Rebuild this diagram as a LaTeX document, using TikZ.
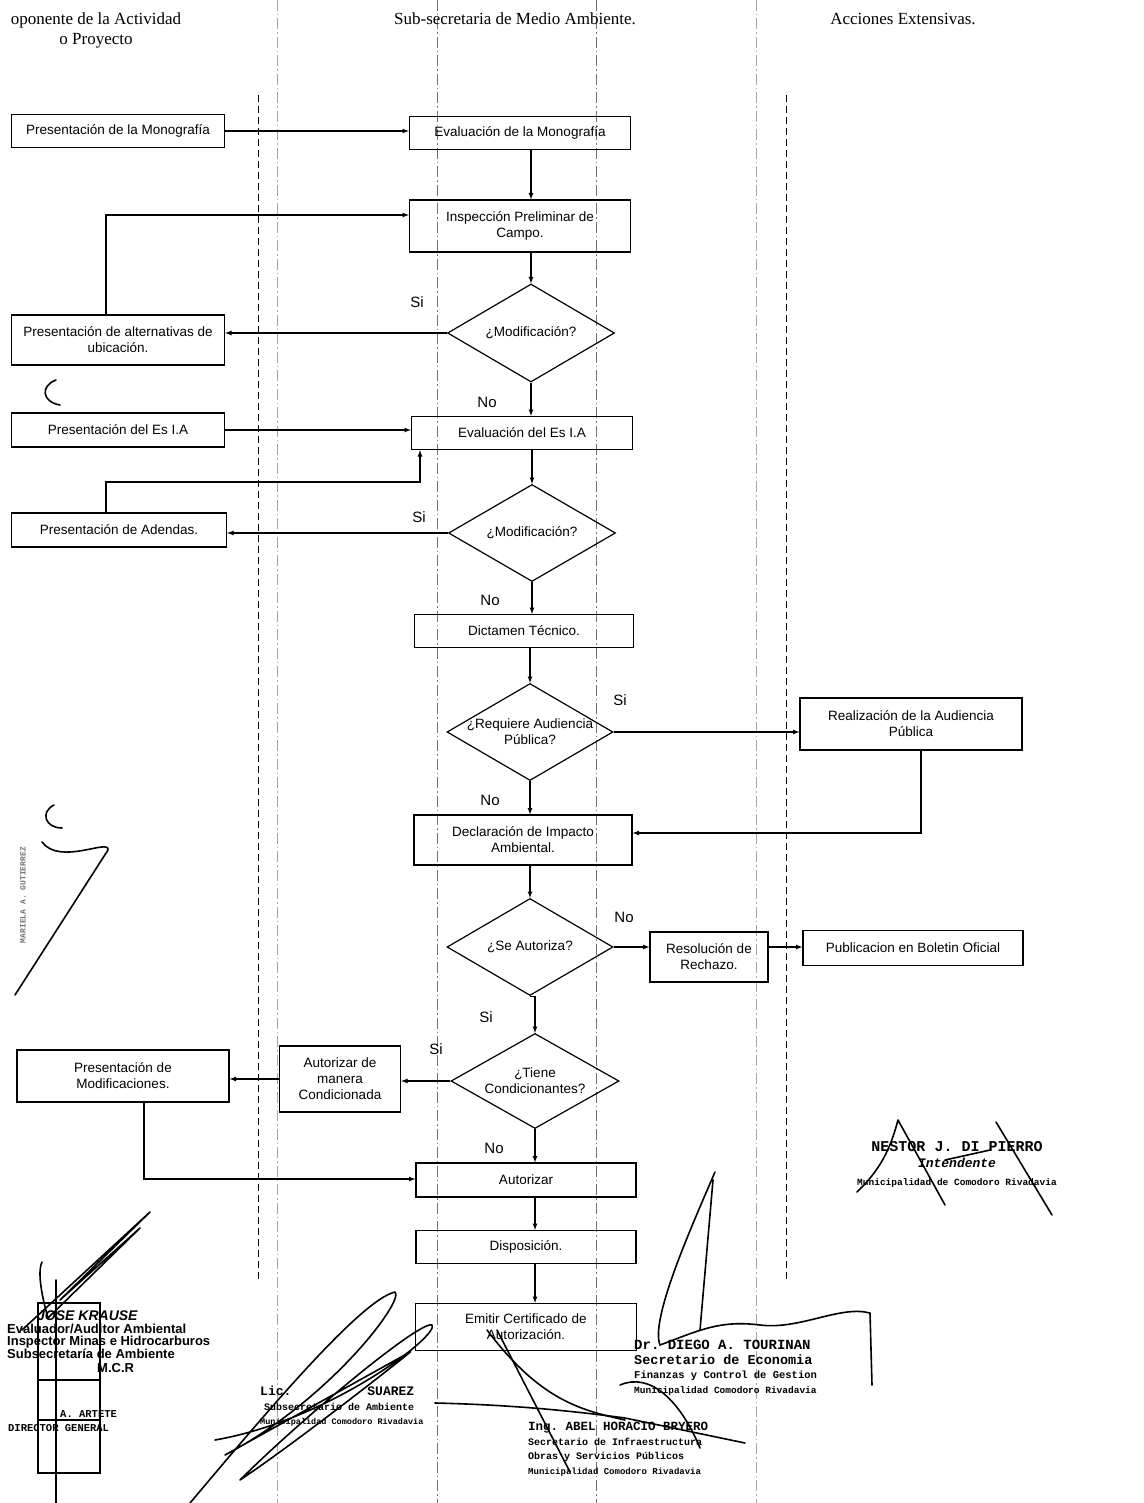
\documentclass[tikz,border=0pt]{standalone}
\usepackage{fontspec}
\setmainfont{Liberation Serif}
\setsansfont{Liberation Sans}
\setmonofont{Liberation Mono}
\usetikzlibrary{shapes.geometric}

\tikzset{
  paso/.style={draw, rectangle, line width=1.2pt, align=center, inner sep=2pt,
    font=\sffamily\fontsize{13.5}{16}\selectfont},
  pregunta/.style={draw, diamond, aspect=1.7, line width=1.2pt, align=center,
    inner sep=-6pt, font=\sffamily\fontsize{13.5}{16}\selectfont},
  flecha/.style={-latex, line width=1.2pt},
  rotulo/.style={font=\sffamily\fontsize{15}{17}\selectfont},
  titulo/.style={font=\fontsize{17}{20}\selectfont, align=center},
  carril/.style={line width=1pt, dash pattern=on 7pt off 4pt},
  guia/.style={line width=0.7pt, black!55, dash pattern=on 11pt off 3pt on 1.5pt off 3pt},
  sello/.style={align=left, inner sep=0pt, font=\ttfamily\bfseries\fontsize{10}{14.5}\selectfont},
  selloK/.style={align=left, inner sep=0pt, font=\sffamily\bfseries\fontsize{13}{12.5}\selectfont},
  firma/.style={line width=1.6pt, line cap=round, line join=round},
}

\begin{document}
\begin{tikzpicture}[x=1pt, y=-1pt]

  \fill[white] (0,0) rectangle (1143,1503);
  \useasboundingbox (0,0) rectangle (1143,1503); %% page size

  %% swim lanes
  \foreach \gx in {277, 756} \draw[guia, black!35] (\gx,0) -- (\gx,1503);
  \foreach \gx in {437, 596} \draw[guia] (\gx,0) -- (\gx,1503);
  \foreach \gx in {258, 786} \draw[carril] (\gx,95) -- (\gx,1280);

  %% headers
  \node[titulo] (hdrprop) at (96,30) {oponente de la Actividad\\o Proyecto};
  \node[titulo] (hdrsub) at (515,19) {Sub-secretaria de Medio Ambiente.};
  \node[titulo] (hdracc) at (903,19) {Acciones Extensivas.};

  %% steps
  \node[paso, minimum width=213, minimum height=33] (mono) at (118,131)
    {Presentación de la Monografía};
  \node[paso, minimum width=221, minimum height=33] (evalmono) at (520,133)
    {Evaluación de la Monografía};
  \node[paso, minimum width=221, minimum height=52] (insp) at (520,226)
    {Inspección Preliminar de\\Campo.};
  \node[pregunta, minimum width=167, minimum height=98] (modA) at (531,333)
    {¿Modificación?};
  \node[paso, minimum width=213, minimum height=50] (alt) at (118,340)
    {Presentación de alternativas de\\ubicación.};

  \node[paso, minimum width=213, minimum height=34] (esia) at (118,430)
    {Presentación del Es I.A};
  \node[paso, minimum width=221, minimum height=33] (evalesia) at (522,433)
    {Evaluación del Es I.A};
  \node[pregunta, minimum width=167, minimum height=97] (modB) at (532,533)
    {¿Modificación?};
  \node[paso, minimum width=215, minimum height=34] (aden) at (119,530)
    {Presentación de Adendas.};
  \node[paso, minimum width=219, minimum height=33] (dict) at (524,631)
    {Dictamen Técnico.};

  \node[pregunta, minimum width=166, minimum height=97] (aud) at (530,732)
    {¿Requiere Audiencia\\Pública?};
  \node[paso, minimum width=222, minimum height=52] (real) at (911,724)
    {Realización de la Audiencia\\Pública};
  \node[paso, minimum width=218, minimum height=50] (decl) at (523,840)
    {Declaración de Impacto\\Ambiental.};

  \node[pregunta, minimum width=166, minimum height=97] (autoriza) at (530,947)
    {¿Se Autoriza?};
  \node[paso, minimum width=118, minimum height=50] (rech) at (709,957)
    {Resolución de\\Rechazo.};
  \node[paso, minimum width=220, minimum height=35] (pub) at (913,948)
    {Publicacion en Boletin Oficial};

  \node[pregunta, minimum width=168, minimum height=95] (cond) at (535,1081)
    {¿Tiene\\Condicionantes?};
  \node[paso, minimum width=121, minimum height=66] (autcond) at (340,1079)
    {Autorizar de\\manera\\Condicionada};
  \node[paso, minimum width=212, minimum height=52] (modif) at (123,1076)
    {Presentación de\\Modificaciones.};
  \node[paso, minimum width=220, minimum height=34] (autz) at (526,1180)
    {Autorizar};
  \node[paso, minimum width=220, minimum height=33] (disp) at (526,1247)
    {Disposición.};
  \node[paso, minimum width=221, minimum height=47] (emit) at (526,1327)
    {Emitir Certificado de\\Autorización.};

  %% branch labels
  \node[rotulo] (siA) at (417,302) {Si};
  \node[rotulo] (noA) at (487,402) {No};
  \node[rotulo] (siB) at (419,517) {Si};
  \node[rotulo] (noB) at (490,600) {No};
  \node[rotulo] (siC) at (620,700) {Si};
  \node[rotulo] (noC) at (490,800) {No};
  \node[rotulo] (noD) at (624,917) {No};
  \node[rotulo] (siD) at (486,1017) {Si};
  \node[rotulo] (siE) at (436,1049) {Si};
  \node[rotulo] (noE) at (494,1148) {No};

  %% turning points
  \coordinate (vueltaA) at (106,215);
  \coordinate (vueltaB) at (420,482);
  \coordinate (vueltaC) at (921,833);
  \coordinate (vueltaD) at (144,1179);

  %% connectors
  \draw[flecha] (mono.east) -- (mono.east -| evalmono.west);
  \draw[flecha] (evalmono.south -| modA.north) -- (insp.north -| modA.north);
  \draw[flecha] (insp.south -| modA.north) -- (modA.north);
  \draw[flecha] (modA.west) -- (modA.west -| alt.east);
  \draw[flecha] (alt.north -| vueltaA) |- (vueltaA -| insp.west);
  \draw[flecha] (modA.south) -- (modA.south |- evalesia.north);

  \draw[flecha] (esia.east) -- (esia.east -| evalesia.west);
  \draw[flecha] (evalesia.south -| modB.north) -- (modB.north);
  \draw[flecha] (modB.west) -- (modB.west -| aden.east);
  \draw[flecha] (aden.north -| vueltaA) |- (vueltaB) -- (vueltaB |- evalesia.south);
  \draw[flecha] (modB.south) -- (modB.south |- dict.north);
  \draw[flecha] (dict.south -| aud.north) -- (aud.north);

  \draw[flecha] (aud.east) -- (aud.east -| real.west);
  \draw[flecha] (aud.south) -- (aud.south |- decl.north);
  \draw[flecha] (real.south -| vueltaC) -- (vueltaC) -- (vueltaC -| decl.east);
  \draw[flecha] (decl.south -| autoriza.north) -- (autoriza.north);

  \draw[flecha] (autoriza.east) -- (autoriza.east -| rech.west);
  \draw[flecha] (autoriza.east -| rech.east) -- (autoriza.east -| pub.west);
  \draw[flecha] (autoriza.south) -- (autoriza.south -| cond.north) -- (cond.north);

  \draw[flecha] (cond.west) -- (cond.west -| autcond.east);
  \draw[flecha] (autcond.west) -- (autcond.west -| modif.east);
  \draw[flecha] (modif.south -| vueltaD) -- (vueltaD) -- (vueltaD -| autz.west);
  \draw[flecha] (cond.south) -- (cond.south |- autz.north);
  \draw[flecha] (autz.south -| cond.south) -- (disp.north -| cond.south);
  \draw[flecha] (disp.south -| cond.south) -- (emit.north -| cond.south);

  %% stamps
  \node[selloK, anchor=north west] (krause) at (7,1311)
    {\fontsize{14}{13}\selectfont\hspace*{30pt}\textit{JOSE KRAUSE}\\
     Evaluador/Auditor Ambiental\\
     Inspector Minas e Hidrocarburos\\
     Subsecretaría de Ambiente\\[2pt]
     \hspace*{90pt}M.C.R};
  \node[sello, anchor=north west] (artete) at (8,1410)
    {\fontsize{10.5}{13}\selectfont\hspace*{52pt}A. ARTETE\\
     \fontsize{10.5}{13}\selectfont DIRECTOR GENERAL};
  \node[rotate=90, font=\ttfamily\bfseries\fontsize{8}{9}\selectfont, black!55]
    (gutierrez) at (23,895) {MARIELA A. GUTIERREZ};
  \node[sello, anchor=north west] (suarez) at (260,1386)
    {\fontsize{13}{15}\selectfont Lic.\hspace*{76pt}SUAREZ\\
     \hspace*{4pt}Subsecretario de Ambiente\\
     \fontsize{8.5}{11}\selectfont Municipalidad Comodoro Rivadavia};
  \node[sello, anchor=north west] (bryero) at (528,1422)
    {\fontsize{12.5}{14}\selectfont Ing. ABEL HORACIO BRYERO\\
     Secretario de Infraestructura\\
     Obras y Servicios Públicos\\
     \fontsize{9}{11}\selectfont Municipalidad Comodoro Rivadavia};
  \node[sello, anchor=north west] (tourinan) at (634,1340)
    {\fontsize{14}{15}\selectfont Dr. DIEGO A. TOURINAN\\
     \fontsize{13.5}{13}\selectfont Secretario de Economia\\
     \fontsize{10.5}{12}\selectfont Finanzas y Control de Gestion\\
     \fontsize{9.5}{11}\selectfont Municipalidad Comodoro Rivadavia};
  \node[sello, align=center] (pierro) at (957,1164)
    {\fontsize{15}{15}\selectfont NESTOR J. DI PIERRO\\[2pt]
     \fontsize{13}{13}\selectfont\itshape Intendente\\[3pt]
     \fontsize{9.5}{11}\selectfont Municipalidad de Comodoro Rivadavia};

  %% signatures
  \draw[firma] (22,1330) -- (150,1212) -- (60,1300) -- (140,1228) -- (48,1318)
    .. controls (40,1290) and (38,1270) .. (42,1262);
  \draw[line width=1.2pt] (38,1303) rectangle (100,1473);
  \draw[line width=1.2pt] (38,1380) -- (100,1380) (38,1420) -- (100,1420);
  \draw[firma] (56,1280) -- (56,1503);
  \draw[firma] (190,1503) .. controls (260,1420) and (360,1300) .. (395,1292)
    .. controls (405,1300) and (330,1400) .. (225,1455)
    -- (410,1352) .. controls (420,1345) and (300,1440) .. (240,1480)
    .. controls (300,1420) and (420,1320) .. (432,1325)
    .. controls (440,1335) and (330,1420) .. (215,1440);
  \draw[firma] (435,1403) .. controls (520,1405) and (580,1412) .. (625,1418)
    -- (745,1443);
  \draw[firma] (487,1330) .. controls (540,1400) and (580,1410) .. (625,1420);
  \draw[firma] (497,1330) -- (570,1472);
  \draw[firma] (620,1385) .. controls (650,1372) and (680,1400) .. (700,1448);
  \draw[firma] (715,1172) .. controls (690,1230) and (650,1320) .. (660,1345)
    .. controls (700,1330) and (720,1320) .. (760,1325)
    .. controls (800,1330) and (840,1305) .. (870,1313) -- (872,1385);
  \draw[firma] (713,1180) -- (700,1330);
  \draw[firma] (857,1192) .. controls (880,1170) and (890,1150) .. (898,1120)
    -- (945,1205);
  \draw[firma] (996,1122) -- (1052,1215);
  \draw[firma] (945,1160) -- (990,1150);
  \draw[firma] (15,995) -- (108,850) .. controls (110,838) and (60,866) .. (42,842);
  \draw[firma] (56,380) .. controls (40,386) and (42,402) .. (60,405);
  \draw[firma] (54,805) .. controls (40,812) and (45,828) .. (62,828);

\end{tikzpicture}
\end{document}
